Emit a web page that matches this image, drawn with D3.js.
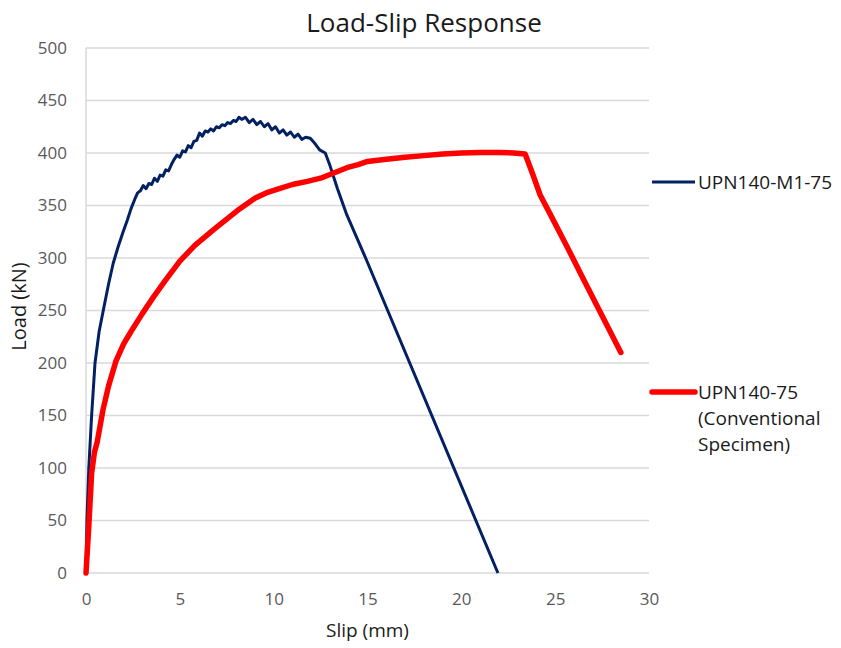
<!DOCTYPE html>
<html>
<head>
<meta charset="utf-8">
<script src="https://cdn.jsdelivr.net/npm/d3@7"></script>
<style>
  html, body { margin: 0; padding: 0; background: #fff; }
  svg { display: block; font-family: "Open Sans", "Noto Sans", sans-serif; }
</style>
</head>
<body>
<svg id="chart" width="841" height="648"></svg>
<script>
// Load-slip test data
const seriesNames = ["UPN140-M1-75", "UPN140-75", "(Conventional", "Specimen)"];
const xTicks = [0, 5, 10, 15, 20, 25, 30];
const yTicks = [0, 50, 100, 150, 200, 250, 300, 350, 400, 450, 500];

// UPN140-M1-75
const slipM1 = [0, 0.05, 0.15, 0.3, 0.48, 0.7, 0.92, 1.2, 1.45, 1.7, 1.98, 2.2, 2.4, 2.6, 2.75, 2.9,
  3.05, 3.2, 3.35, 3.5, 3.65, 3.8, 3.95, 4.1, 4.25, 4.4, 4.55, 4.7, 4.85, 5.0, 5.15, 5.3, 5.45, 5.6,
  5.75, 5.9, 6.05, 6.2, 6.35, 6.5, 6.65, 6.8, 6.95, 7.1, 7.25, 7.4, 7.55, 7.7, 7.85, 8.0, 8.15, 8.3,
  8.5, 8.7, 8.9, 9.1, 9.3, 9.5, 9.7, 9.9, 10.1, 10.3, 10.5, 10.7, 10.9, 11.1, 11.3, 11.5, 11.7, 11.95,
  12.2, 12.45, 12.75, 13.0, 13.4, 13.9, 14.9, 21.95];
const loadM1 = [0, 50, 100, 150, 200, 230, 250, 275, 295, 310, 325, 336, 347, 356, 362, 364,
  369, 366, 371, 370, 376, 373, 379, 378, 384, 383, 389, 394, 398, 396, 402, 401, 407, 405,
  411, 412, 419, 416, 421, 420, 423, 421, 425, 424, 427, 426, 429, 428, 431, 430, 434, 432,
  434, 429, 432, 427, 430, 425, 428, 422, 425, 419, 422, 417, 420, 415, 418, 413, 415, 414,
  409, 403, 400, 388, 366, 341, 300, 0];

// UPN140-75 (conventional specimen)
const slipConv = [0, 0.15, 0.3, 0.45, 0.6, 0.9, 1.2, 1.6, 2.0, 2.4, 3.0, 3.6, 4.2, 5.0, 5.8, 6.8,
  7.5, 8.2, 8.6, 9.0, 9.6, 10.3, 11.0, 11.8, 12.5, 13.2, 13.9, 14.5, 15.0, 16.0, 17.0, 18.0, 19.0,
  20.0, 21.0, 22.0, 22.8, 23.4, 23.8, 24.2, 24.7, 25.6, 26.5, 27.5, 28.5];
const loadConv = [0, 45, 95, 115, 125, 155, 178, 202, 218, 230, 247, 263, 278, 297, 312, 327,
  337, 347, 352, 357, 362, 366, 370, 373, 376, 381, 386, 389, 392, 394, 396, 397.5, 399,
  400, 400.5, 400.5, 400, 399, 380, 360, 343, 312, 280, 245, 210];

const svg = d3.select("#chart");
const m = { left: 86, right: 649, top: 48, bottom: 573 };

const x = d3.scaleLinear().domain([0, 30]).range([m.left, m.right]);
const y = d3.scaleLinear().domain([0, 500]).range([m.bottom, m.top]);

// Horizontal gridlines
svg.append("g")
  .selectAll("line").data(yTicks).join("line")
  .attr("x1", m.left).attr("x2", m.right)
  .attr("y1", d => y(d)).attr("y2", d => y(d))
  .attr("stroke", "#d9d9d9").attr("stroke-width", 1.5);

// Vertical axis line
svg.append("line")
  .attr("x1", m.left).attr("x2", m.left)
  .attr("y1", y(500)).attr("y2", y(0))
  .attr("stroke", "#d9d9d9").attr("stroke-width", 1.5);

// Axes (labels only)
const yAxis = d3.axisLeft(y).tickValues(yTicks).tickSize(0).tickPadding(19);
const xAxis = d3.axisBottom(x).tickValues(xTicks).tickSize(0).tickPadding(20);

const gy = svg.append("g").attr("transform", `translate(${m.left},0)`).call(yAxis);
const gx = svg.append("g").attr("transform", `translate(0,${m.bottom})`).call(xAxis);
[gy, gx].forEach(g => {
  g.select(".domain").remove();
  g.selectAll("text")
    .attr("fill", "#595959")
    .style("font-size", "17px")
    .style("font-family", "'Open Sans', sans-serif");
});

// Series lines
const line = d3.line().x(d => x(d[0])).y(d => y(d[1]));
const m1Data = d3.zip(slipM1, loadM1);
const convData = d3.zip(slipConv, loadConv);

svg.append("path").datum(m1Data)
  .attr("d", line)
  .attr("fill", "none")
  .attr("stroke", "#022062")
  .attr("stroke-width", 3)
  .attr("stroke-linejoin", "round");

svg.append("path").datum(convData)
  .attr("d", line)
  .attr("fill", "none")
  .attr("stroke", "#ff0000")
  .attr("stroke-width", 5.5)
  .attr("stroke-linejoin", "round")
  .attr("stroke-linecap", "round");

// Title
svg.append("text")
  .attr("x", 424).attr("y", 32)
  .attr("text-anchor", "middle")
  .attr("fill", "#1a1a1a")
  .style("font-size", "26px")
  .text("Load-Slip Response");

// Axis titles
svg.append("text")
  .attr("x", (m.left + m.right) / 2).attr("y", 637)
  .attr("text-anchor", "middle")
  .attr("fill", "#1a1a1a")
  .style("font-size", "19px")
  .text("Slip (mm)");

svg.append("text")
  .attr("transform", `translate(26,${(m.top + m.bottom) / 2 - 4}) rotate(-90)`)
  .attr("text-anchor", "middle")
  .attr("fill", "#1a1a1a")
  .style("font-size", "20px")
  .text("Load (kN)");

// Legend
const legend = svg.append("g");
legend.append("line")
  .attr("x1", 652).attr("x2", 695).attr("y1", 182).attr("y2", 182)
  .attr("stroke", "#022062").attr("stroke-width", 3);
legend.append("text")
  .attr("x", 698).attr("y", 188.5)
  .attr("fill", "#1a1a1a").style("font-size", "19px")
  .text(seriesNames[0]);

legend.append("line")
  .attr("x1", 652).attr("x2", 695).attr("y1", 392).attr("y2", 392)
  .attr("stroke", "#ff0000").attr("stroke-width", 5.5).attr("stroke-linecap", "round");
const t2 = legend.append("text")
  .attr("x", 698).attr("y", 399)
  .attr("fill", "#1a1a1a").style("font-size", "19px");
seriesNames.slice(1).forEach((s, i) => {
  t2.append("tspan").attr("x", 698).attr("dy", i === 0 ? 0 : 26).text(s);
});
</script>
</body>
</html>
